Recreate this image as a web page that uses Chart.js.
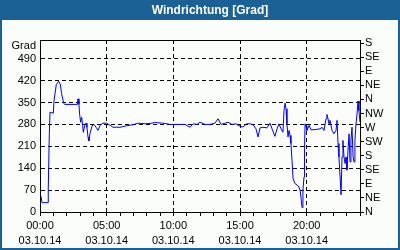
<!DOCTYPE html>
<html>
<head>
<meta charset="utf-8">
<script src="https://cdn.jsdelivr.net/npm/chart.js@4"></script>
<style>
  body { margin: 0; background: #ffffff; }
  canvas { display: block; }
</style>
</head>
<body>
<canvas id="windChart" width="400" height="250"></canvas>
<script>
// time of day in hours (03.10.14) and wind direction in degrees
const hours = [
  0.08, 0.15, 0.6, 0.62, 0.7, 0.75, 1.0, 1.05, 1.22, 1.4, 1.52, 1.62, 1.78, 1.85,
  2.8, 2.85, 2.92, 2.98, 3.05, 3.12, 3.2, 3.25, 3.35, 3.45, 3.52, 3.6, 3.67, 3.75,
  3.9, 4.05, 4.2, 4.35, 4.5, 4.72, 5.0, 5.48, 6.0, 6.52, 6.98, 7.35, 7.88, 8.25,
  8.62, 9.22, 9.75, 10.88, 11.25, 11.48, 11.78, 12.0, 12.38, 12.75, 13.12, 13.35,
  13.58, 13.88, 14.1, 14.4, 14.7, 15.0, 15.22, 15.5, 15.75, 15.98, 16.2, 16.35,
  16.5, 16.72, 17.02, 17.25, 17.4, 17.62, 17.78, 17.92, 18.08, 18.22, 18.3, 18.38,
  18.45, 18.52, 18.6, 18.68, 18.75, 18.82, 18.9, 18.98, 19.12, 19.28, 19.42, 19.5,
  19.58, 19.65, 19.72, 19.8, 19.84, 19.88, 19.95, 20.02, 20.18, 20.32, 20.55, 21.0,
  21.15, 21.3, 21.45, 21.52, 21.6, 21.68, 21.75, 21.9, 22.05, 22.2, 22.28, 22.35,
  22.42, 22.5, 22.58, 22.65, 22.72, 22.8, 22.88, 22.95, 23.02, 23.1, 23.18, 23.25,
  23.32, 23.4, 23.48, 23.55, 23.62, 23.7, 23.78, 23.85, 23.92, 24.0
];
const grad = [
  50, 30, 30, 76, 251, 319, 316, 356, 407, 418, 409, 378, 348, 344,
  344, 362, 344, 309, 287, 303, 277, 255, 277, 284, 271, 240, 227, 251,
  275, 280, 271, 261, 277, 284, 284, 271, 271, 276, 279, 284, 282, 283,
  286, 284, 280, 280, 271, 282, 280, 287, 280, 280, 284, 298,
  280, 284, 287, 280, 282, 274, 272, 282, 282, 279, 266, 240,
  269, 271, 269, 284, 266, 242, 266, 282, 266, 255, 324, 348,
  330, 282, 240, 261, 245, 219, 165, 107, 91, 86, 80, 70,
  44, 14, 70, 112, 203, 282, 274, 261, 277, 263, 263, 266,
  271, 261, 298, 312, 298, 282, 293, 261, 250, 261, 293, 219,
  176, 118, 55, 176, 229, 176, 155, 176, 134, 197, 250, 160,
  229, 271, 176, 160, 229, 282, 314, 355, 324, 287
];

const hourLabels = ["00:00", "05:00", "10:00", "15:00", "20:00"];
const dateLabel = "03.10.14";
const gradTicks = [0, 70, 140, 210, 280, 350, 420, 490];
const compass = ["N", "NE", "E", "SE", "S", "SW", "W", "NW", "N", "NE", "E", "SE", "S"];

const frameBlue = "#1c6196";
const labelFont = { family: "'Liberation Sans', Arial, sans-serif", size: 11 };

// background, title bar, outer frame, plot box and the "Grad" caption
const framePlugin = {
  id: "frame",
  beforeDraw(chart) {
    const ctx = chart.ctx;
    ctx.save();
    ctx.fillStyle = frameBlue;
    ctx.fillRect(0, 0, 400, 250);
    ctx.fillStyle = "#fbfdfb";
    ctx.fillRect(2, 20, 396, 228);
    ctx.fillStyle = "#ffffff";
    ctx.font = "bold 12px 'Liberation Sans', Arial, sans-serif";
    ctx.textAlign = "center";
    ctx.textBaseline = "middle";
    ctx.fillText("Windrichtung [Grad]", 210, 11);
    ctx.fillStyle = "#000000";
    ctx.font = "11px 'Liberation Sans', Arial, sans-serif";
    ctx.textAlign = "right";
    ctx.fillText("Grad", 36, 46);
    ctx.restore();
  },
  afterDraw(chart) {
    const a = chart.chartArea;
    const ctx = chart.ctx;
    ctx.save();
    ctx.strokeStyle = "#000000";
    ctx.lineWidth = 1;
    ctx.strokeRect(Math.round(a.left) + 0.5, Math.round(a.top) + 0.5,
      Math.round(a.right - a.left), Math.round(a.bottom - a.top));
    ctx.restore();
  }
};

new Chart(document.getElementById("windChart"), {
  type: "line",
  data: {
    datasets: [
      {
        data: hours.map((h, i) => ({ x: h, y: grad[i] })),
        borderColor: "#0000ff",
        borderWidth: 1,
        pointRadius: 0,
        tension: 0,
        fill: false,
      },
    ],
  },
  options: {
    responsive: false,
    animation: false,
    layout: { padding: { top: 40, left: 0, right: 0, bottom: 0 } },
    plugins: {
      legend: { display: false },
      title: { display: false },
      tooltip: { enabled: false },
    },
    scales: {
      x: {
        type: "linear",
        min: 0,
        max: 24,
        afterFit: (scale) => { scale.height = 38; },
        ticks: {
          stepSize: 1,
          autoSkip: false,
          maxRotation: 0,
          padding: 2,
          color: "#000000",
          font: { ...labelFont, lineHeight: 1.4 },
          callback: (v) => (v % 5 === 0 && v < 24 ? [hourLabels[v / 5], dateLabel] : ""),
        },
        grid: {
          color: (ctx) => (ctx.tick && ctx.tick.value % 5 === 0 ? "#000000" : "rgba(0,0,0,0)"),
          tickColor: "#000000",
          tickLength: 4,
          lineWidth: 1,
        },
        border: { color: "#000000", dash: [4, 3] },
      },
      y: {
        position: "left",
        min: 0,
        max: 550,
        afterFit: (scale) => { scale.width = 40; },
        afterBuildTicks: (scale) => {
          scale.ticks = gradTicks.map((v) => ({ value: v }));
        },
        ticks: {
          autoSkip: false,
          padding: 4,
          color: "#000000",
          font: labelFont,
        },
        grid: {
          color: "#000000",
          drawTicks: false,
          lineWidth: 1,
        },
        border: { color: "#000000", dash: [4, 3] },
      },
      y2: {
        position: "right",
        min: 0,
        max: 550,
        afterFit: (scale) => { scale.width = 40; },
        afterBuildTicks: (scale) => {
          scale.ticks = compass.map((c, i) => ({ value: i * 45 }));
        },
        ticks: {
          autoSkip: false,
          padding: 1,
          color: "#000000",
          font: labelFont,
          callback: (v) => compass[Math.round(v / 45)],
        },
        grid: {
          drawOnChartArea: false,
          color: "#000000",
          tickLength: 4,
        },
        border: { color: "#000000" },
      },
    },
  },
  plugins: [framePlugin],
});
</script>
</body>
</html>
